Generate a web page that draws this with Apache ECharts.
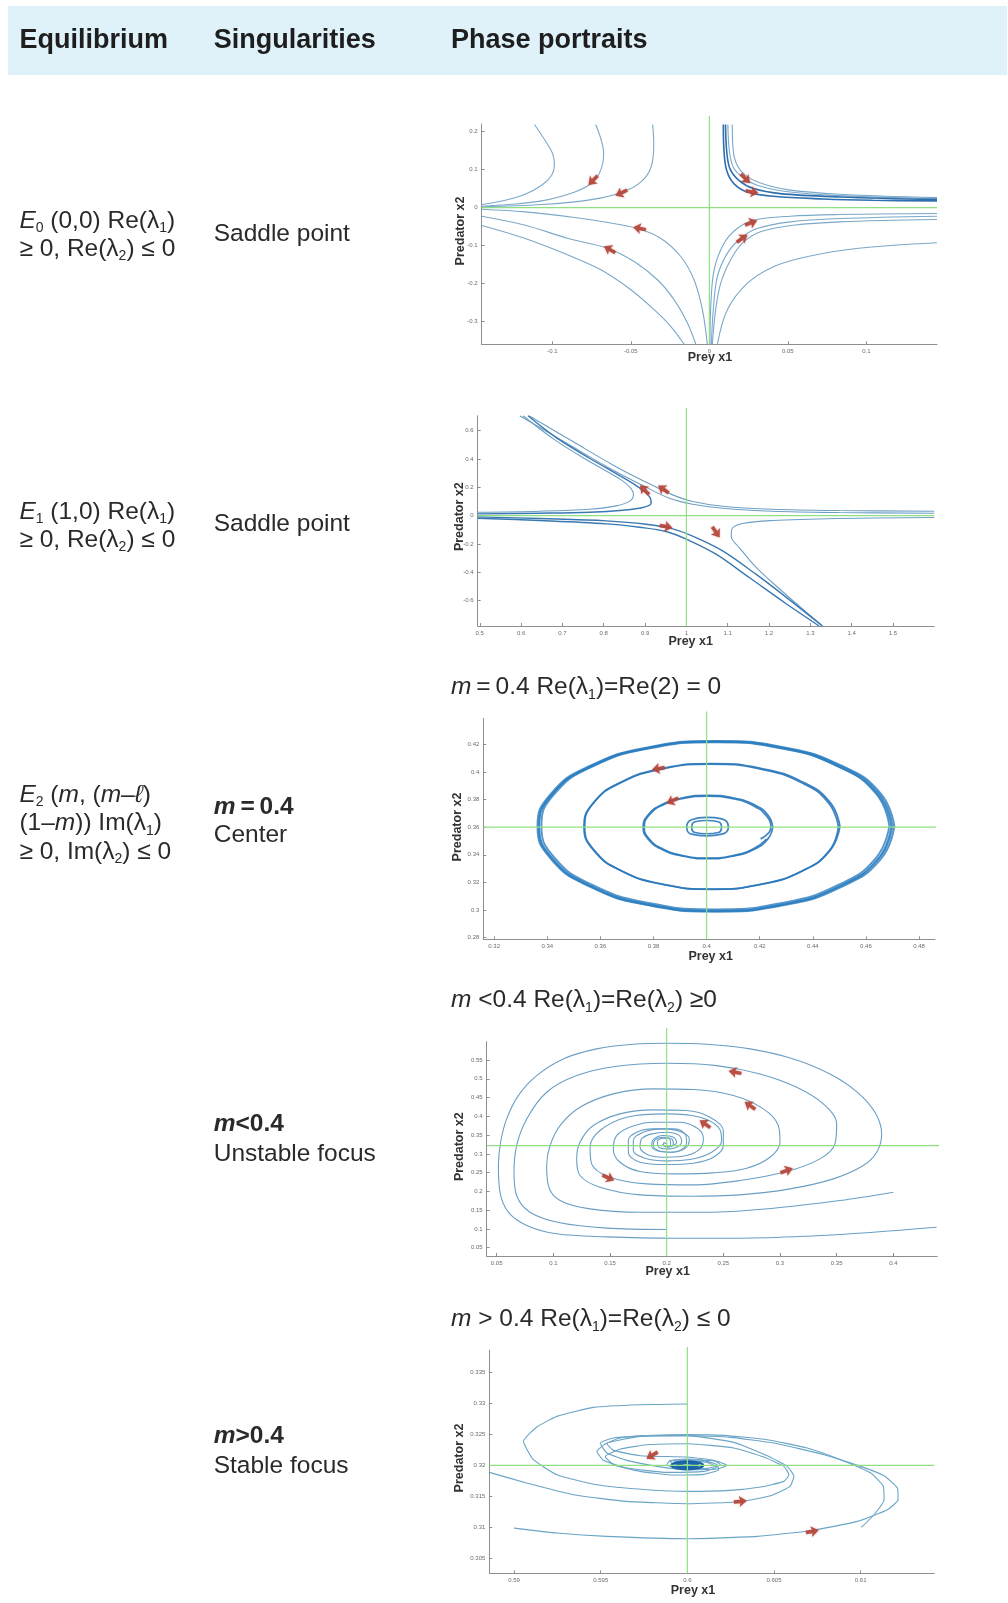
<!DOCTYPE html>
<html>
<head>
<meta charset="utf-8">
<script src="https://cdn.jsdelivr.net/npm/echarts@6/dist/echarts.min.js"></script>
<style>
html,body{margin:0;padding:0;background:#fff;}
#main{width:1008px;height:1603px;}
</style>
</head>
<body>
<div id="main"></div>
<script>
// ---------- Panel 1: E0 saddle ----------
const p1XRange = [-0.145, 0.145];
const p1YRange = [-0.36, 0.22];
const p1XTicks = [-0.1, -0.05, 0, 0.05, 0.1];
const p1YTicks = [-0.3, -0.2, -0.1, 0, 0.1, 0.2];
const p1Cross = [[[0, -0.36], [0, 0.242]], [[-0.145, 0], [0.145, 0]]];
const p1Thin = [
  [[-0.1114,0.2187],[-0.1046,0.1767],[-0.0998,0.1417],[-0.0987,0.1111],[-0.1004,0.0849],[-0.1068,0.0586],[-0.1173,0.035],[-0.13,0.0192],[-0.145,0.0079]],
  [[-0.0724,0.2187],[-0.0688,0.1767],[-0.0673,0.1417],[-0.0688,0.1024],[-0.0741,0.0674],[-0.0857,0.0411],[-0.1068,0.0175],[-0.1278,0.0079],[-0.145,0.0035]],
  [[-0.0361,0.2187],[-0.0354,0.168],[-0.0371,0.1067],[-0.0435,0.0674],[-0.0551,0.0411],[-0.0751,0.021],[-0.1068,0.0079],[-0.145,0.0017]],
  [[-0.145,-0.0044],[-0.1173,-0.0114],[-0.0857,-0.0262],[-0.0646,-0.0394],[-0.0456,-0.0551],[-0.0308,-0.0814],[-0.0181,-0.1295],[-0.0097,-0.1907],[-0.0044,-0.2695],[-0.0013,-0.36]],
  [[-0.145,-0.0227],[-0.1173,-0.0464],[-0.0899,-0.0814],[-0.0646,-0.1076],[-0.0477,-0.1426],[-0.0329,-0.1907],[-0.0224,-0.2432],[-0.0139,-0.3045],[-0.0086,-0.36]],
  [[-0.145,-0.0472],[-0.1173,-0.0814],[-0.0899,-0.1251],[-0.0688,-0.1645],[-0.0498,-0.217],[-0.035,-0.2695],[-0.0245,-0.3132],[-0.016,-0.36]],
  [[0.0118,0.2187],[0.0127,0.1505],[0.0152,0.1067],[0.0209,0.0805],[0.0304,0.0586],[0.0473,0.0429],[0.0831,0.0315],[0.145,0.0236]],
  [[0.0146,0.2187],[0.0152,0.1505],[0.0177,0.1111],[0.023,0.0849],[0.0325,0.0647],[0.0494,0.0472],[0.0831,0.035],[0.145,0.0262]],
  [[0.0004,-0.36],[0.0008,-0.2695],[0.003,-0.1645],[0.0093,-0.0945],[0.0177,-0.0551],[0.0283,-0.0332],[0.0515,-0.0227],[0.0831,-0.0184],[0.145,-0.0157]],
  [[0.0013,-0.36],[0.0025,-0.2695],[0.0051,-0.182],[0.0114,-0.1207],[0.0198,-0.0814],[0.0304,-0.0551],[0.0515,-0.0376],[0.0831,-0.0289],[0.145,-0.0227]],
  [[0.0019,-0.36],[0.004,-0.2695],[0.0072,-0.1995],[0.0135,-0.1382],[0.0209,-0.0945],[0.0325,-0.0639],[0.0536,-0.0464],[0.0831,-0.0376],[0.145,-0.0315]],
  [[0.0051,-0.36],[0.0114,-0.2695],[0.0241,-0.1995],[0.0409,-0.1557],[0.062,-0.1295],[0.0937,-0.1076],[0.145,-0.0927]]
];
const p1Bold = [
  [[0.0089,0.2187],[0.0093,0.1505],[0.011,0.098],[0.0156,0.063],[0.0241,0.0411],[0.0409,0.0297],[0.0726,0.0227],[0.1042,0.0192],[0.145,0.0175]],
  [[0.0103,0.2187],[0.011,0.1505],[0.0131,0.1024],[0.0188,0.0717],[0.0283,0.0499],[0.0451,0.0367],[0.0831,0.028],[0.145,0.021]]
];
const p1Arrows = [[-0.0741,0.0717,135],[-0.0561,0.0385,115],[-0.0445,-0.0551,80],[-0.0635,-0.1102,60],
                  [0.023,0.0761,-135],[0.0272,0.0411,-100],[0.0266,-0.0402,-70],[0.0209,-0.0814,-55]];

// ---------- Panel 2: E1 saddle ----------
const p2XRange = [0.495, 1.6];
const p2YRange = [-0.78, 0.705];
const p2XTicks = [0.5, 0.6, 0.7, 0.8, 0.9, 1, 1.1, 1.2, 1.3, 1.4, 1.5];
const p2YTicks = [-0.6, -0.4, -0.2, 0, 0.2, 0.4, 0.6];
const p2Cross = [[[1, -0.78], [1, 0.762]], [[0.495, 0], [1.6, 0]]];
const p2Thin = [
  [[0.495,0.0235],[0.6449,0.0306],[0.7657,0.0447],[0.8301,0.0682],[0.8639,0.1035],[0.872,0.1506],[0.8639,0.1976],[0.8422,0.2518],[0.7657,0.3812],[0.6852,0.5271],[0.6047,0.705]],
  [[0.6192,0.705],[0.7254,0.5224],[0.8221,0.3576],[0.9026,0.2353],[0.967,0.1459],[1.0153,0.0988],[1.0878,0.0659],[1.2085,0.0447],[1.3696,0.0353],[1.6,0.0306]],
  [[0.5966,0.705],[0.7174,0.4988],[0.814,0.3341],[0.8945,0.2118],[0.9589,0.1224],[1.0153,0.08],[1.0878,0.0518],[1.2085,0.0306],[1.3696,0.0212],[1.6,0.0165]],
  [[1.6,-0.0141],[1.3696,-0.0212],[1.2085,-0.0353],[1.1361,-0.0565],[1.1103,-0.0941],[1.1087,-0.1482],[1.128,-0.2259],[1.17,-0.37],[1.236,-0.545],[1.3293,-0.78]]
];
const p2Bold = [
  [[0.495,0.0118],[0.6449,0.0165],[0.7657,0.0235],[0.8462,0.0376],[0.8945,0.0565],[0.9147,0.0871],[0.9122,0.1271],[0.8986,0.1694],[0.8784,0.2118],[0.8382,0.2824],[0.7657,0.4047],[0.6852,0.5506],[0.6167,0.705]],
  [[0.495,-0.0094],[0.6449,-0.0212],[0.806,-0.0376],[0.9026,-0.0612],[0.967,-0.0941],[1.0233,-0.1553],[1.0878,-0.2494],[1.1683,-0.4141],[1.245,-0.585],[1.3293,-0.78]],
  [[0.495,-0.0188],[0.6449,-0.0353],[0.806,-0.0588],[0.8865,-0.0824],[0.9509,-0.1129],[1.0072,-0.1765],[1.0717,-0.2729],[1.1522,-0.4376],[1.2407,-0.6212],[1.3213,-0.78]]
];
const p2Arrows = [[0.8986,0.1812,45],[0.9444,0.1859,55],[0.9509,-0.0776,-100],[1.0717,-0.1176,-145]];

// ---------- Panel 3: center (m = 0.4) ----------
const p3XRange = [0.3159, 0.486];
const p3YRange = [0.2788, 0.4388];
const p3XTicks = [0.32, 0.34, 0.36, 0.38, 0.4, 0.42, 0.44, 0.46, 0.48];
const p3YTicks = [0.28, 0.3, 0.32, 0.34, 0.36, 0.38, 0.4, 0.42];
const p3Cross = [[[0.4, 0.2788], [0.4, 0.4438]], [[0.3159, 0.36], [0.4875, 0.36]]];
const p3Outer = [
  [[0.47,0.3608],[0.4649,0.3843],[0.4505,0.4041],[0.429,0.4174],[0.4035,0.4221],[0.378,0.4174],[0.3565,0.4041],[0.3421,0.3843],[0.337,0.3608],[0.3421,0.3373],[0.3565,0.3175],[0.378,0.3042],[0.4035,0.2995],[0.429,0.3042],[0.4505,0.3175],[0.4649,0.3373],[0.47,0.3608]],
  [[0.4707,0.3606],[0.4656,0.3843],[0.451,0.4043],[0.4292,0.4177],[0.4035,0.4224],[0.3778,0.4177],[0.356,0.4043],[0.3414,0.3843],[0.3363,0.3606],[0.3414,0.3369],[0.356,0.3169],[0.3778,0.3035],[0.4035,0.2988],[0.4292,0.3035],[0.451,0.3169],[0.4656,0.3369],[0.4707,0.3606]],
  [[0.4688,0.361],[0.4638,0.3842],[0.4496,0.4038],[0.4284,0.4169],[0.4033,0.4215],[0.3782,0.4169],[0.357,0.4038],[0.3428,0.3842],[0.3378,0.361],[0.3428,0.3378],[0.357,0.3182],[0.3782,0.3051],[0.4033,0.3005],[0.4284,0.3051],[0.4496,0.3182],[0.4638,0.3378],[0.4688,0.361]],
  [[0.4695,0.3604],[0.4645,0.3838],[0.45,0.4036],[0.4287,0.4171],[0.4032,0.4218],[0.3776,0.4171],[0.3562,0.4036],[0.3418,0.3838],[0.3368,0.3604],[0.3418,0.337],[0.3562,0.3172],[0.3776,0.3039],[0.4032,0.2992],[0.4287,0.3039],[0.45,0.3172],[0.4645,0.337],[0.4695,0.3604]]
];
const p3Inner = [
  [[0.4502,0.3605],[0.4465,0.3779],[0.4361,0.3927],[0.4204,0.4025],[0.402,0.406],[0.3836,0.4025],[0.3679,0.3927],[0.3575,0.3779],[0.3538,0.3605],[0.3575,0.3431],[0.3679,0.3283],[0.3836,0.3185],[0.402,0.315],[0.4204,0.3185],[0.4361,0.3283],[0.4465,0.3431],[0.4502,0.3605]],
  [[0.4496,0.3603],[0.4459,0.3776],[0.4356,0.3923],[0.42,0.4021],[0.4017,0.4056],[0.3834,0.4021],[0.3678,0.3923],[0.3575,0.3776],[0.3541,0.3603],[0.3578,0.343],[0.3681,0.3283],[0.3837,0.3186],[0.402,0.3151],[0.4203,0.3186],[0.4359,0.3283],[0.4462,0.343],[0.4496,0.3603]],
  [[0.4249,0.3601],[0.423,0.3689],[0.4178,0.3763],[0.4098,0.3813],[0.4005,0.383],[0.3912,0.3813],[0.3832,0.3763],[0.378,0.3689],[0.3761,0.3601],[0.378,0.3513],[0.3832,0.3439],[0.3912,0.3389],[0.4005,0.3372],[0.4098,0.3389],[0.4178,0.3439],[0.423,0.3513],[0.4249,0.3601]],
  [[0.4203,0.3515],[0.4242,0.3598],[0.4224,0.3684],[0.4173,0.3758],[0.4094,0.3808],[0.4003,0.3825],[0.3912,0.3808],[0.3834,0.3759],[0.3783,0.3686],[0.3765,0.36],[0.3784,0.3514],[0.3835,0.3442],[0.3914,0.3393],[0.4005,0.3376],[0.4096,0.3393],[0.4175,0.3442],[0.4226,0.3514]],
  [[0.4,0.367],[0.4057,0.366],[0.4082,0.36],[0.4057,0.3549],[0.4,0.3537],[0.3943,0.3549],[0.3925,0.36],[0.3943,0.3653],[0.4,0.367]],
  [[0.4,0.3648],[0.4044,0.3639],[0.4056,0.36],[0.4044,0.3561],[0.4,0.3552],[0.3956,0.3561],[0.3944,0.36],[0.3956,0.3639],[0.4,0.3648]]
];
const p3Arrows = [[0.3818,0.4023,100],[0.3871,0.3791,115]];

// ---------- Panel 4: unstable focus (m < 0.4) ----------
const p4XRange = [0.0412, 0.4388];
const p4YRange = [0.0278, 0.599];
const p4XTicks = [0.05, 0.1, 0.15, 0.2, 0.25, 0.3, 0.35, 0.4];
const p4YTicks = [0.05, 0.1, 0.15, 0.2, 0.25, 0.3, 0.35, 0.4, 0.45, 0.5, 0.55];
const p4Cross = [[[0.2, 0.0278], [0.2, 0.6365]], [[0.0412, 0.322], [0.4403, 0.322]]];
const p4Spirals = [
  [[0.4382,0.1046],[0.3824,0.0913],[0.3235,0.0806],[0.2647,0.0753],[0.2059,0.0753],[0.1471,0.0789],[0.1029,0.0869],[0.0765,0.1091],[0.0603,0.1446],[0.0529,0.1979],[0.0515,0.2689],[0.0535,0.3311],[0.0588,0.3932],[0.0691,0.4554],[0.0853,0.5087],[0.1088,0.5531],[0.1382,0.5798],[0.1706,0.5922],[0.2,0.5948],[0.2353,0.5922],[0.2735,0.5798],[0.3118,0.5531],[0.3441,0.5131],[0.3676,0.4661],[0.3838,0.411],[0.3897,0.3533],[0.3853,0.3044],[0.3735,0.2689],[0.3471,0.2334],[0.3088,0.2067],[0.2647,0.1908],[0.2206,0.1872],[0.1765,0.1908],[0.1412,0.2112],[0.1235,0.2423],[0.1206,0.2867],[0.1235,0.3311],[0.1353,0.3755],[0.1588,0.4066],[0.1882,0.4172],[0.2176,0.4155],[0.2382,0.3977],[0.25,0.3622],[0.25,0.3222],[0.2412,0.2911],[0.2235,0.2751],[0.2,0.2716],[0.1765,0.2778],[0.1662,0.3044],[0.1662,0.3355],[0.1735,0.3577],[0.1882,0.3666],[0.2059,0.3666],[0.2162,0.3533],[0.2176,0.3311],[0.2132,0.3115],[0.2029,0.3044],[0.1926,0.3089],[0.1882,0.3222],[0.1897,0.3373],[0.1971,0.3444],[0.2044,0.34],[0.2059,0.3266],[0.2015,0.3178],[0.1971,0.3222],[0.1976,0.3293],[0.2,0.3266]],
  [[0.4,0.1979],[0.3529,0.1757],[0.2941,0.1552],[0.2353,0.1446],[0.1765,0.1446],[0.1324,0.1535],[0.1059,0.1757],[0.0956,0.2156],[0.0941,0.2689],[0.0971,0.3222],[0.1059,0.3755],[0.1235,0.4243],[0.1529,0.4599],[0.1882,0.4732],[0.2235,0.4714],[0.2588,0.4554],[0.2853,0.4199],[0.2985,0.3755],[0.3,0.3311],[0.2912,0.2911],[0.2706,0.2618],[0.2412,0.2494],[0.2059,0.2467],[0.1765,0.2529],[0.1588,0.2778],[0.1529,0.3133],[0.1559,0.3488],[0.1691,0.3728],[0.1882,0.3844],[0.2118,0.3844],[0.2279,0.3666],[0.2324,0.34],[0.2294,0.3133],[0.2176,0.2956],[0.2,0.2911],[0.1838,0.2973],[0.1765,0.3178],[0.1779,0.34],[0.1868,0.3533],[0.2,0.3577],[0.2103,0.3506],[0.2132,0.3329],[0.2088,0.3178],[0.2,0.3133],[0.1926,0.3195],[0.1918,0.3329],[0.1965,0.3417],[0.2029,0.3382],[0.2035,0.324],[0.1994,0.3204]],
  [[0.2,0.0984],[0.1471,0.102],[0.1059,0.1162],[0.0794,0.1446],[0.0676,0.189],[0.0653,0.2512],[0.0676,0.3222],[0.0765,0.3932],[0.0941,0.4643],[0.1206,0.5087],[0.1559,0.5336],[0.2,0.5416],[0.2441,0.5353],[0.2824,0.5131],[0.3147,0.4776],[0.3382,0.4332],[0.35,0.3799],[0.3485,0.3266],[0.3353,0.2867],[0.3059,0.2529],[0.2647,0.229],[0.2235,0.2174],[0.1824,0.2201],[0.15,0.2378],[0.1338,0.2734],[0.1324,0.3178],[0.1412,0.3622],[0.1647,0.3977],[0.2,0.4066],[0.2294,0.3977],[0.2456,0.371],[0.2485,0.3355],[0.2397,0.3044],[0.2206,0.2849],[0.2,0.2813],[0.1809,0.2885],[0.1706,0.3089],[0.1706,0.3355],[0.1794,0.3577],[0.1971,0.3666],[0.2118,0.3595],[0.22,0.34],[0.2176,0.3178],[0.2059,0.3044],[0.1941,0.3062],[0.1868,0.3204],[0.1882,0.3382],[0.1971,0.3488],[0.2059,0.3444],[0.2088,0.3311],[0.2029,0.3195],[0.1956,0.324]]
];
const p4Arrows = [[0.2603,0.5176,80],[0.2735,0.4288,55],[0.2338,0.3799,55],[0.1485,0.2361,-115],[0.3059,0.2556,-70]];

// ---------- Panel 5: stable focus (m > 0.4) ----------
const p5XRange = [0.58857, 0.61425];
const p5YRange = [0.3026, 0.3386];
const p5XTicks = [0.59, 0.595, 0.6, 0.605, 0.61];
const p5YTicks = [0.305, 0.31, 0.315, 0.32, 0.325, 0.33, 0.335];
const p5Cross = [[[0.6, 0.3026], [0.6, 0.3391]], [[0.58857, 0.32], [0.61425, 0.32]]];
const p5Paths = [
  [[0.6,0.32989],[0.59728,0.32978],[0.59459,0.32935],[0.59247,0.3279],[0.59131,0.32618],[0.59054,0.32387],[0.59112,0.32091],[0.59247,0.31849],[0.59478,0.31688],[0.59767,0.31608],[0.6,0.31581],[0.60249,0.31597],[0.60422,0.3165],[0.60557,0.31742],[0.60586,0.31849],[0.60557,0.31984],[0.60441,0.32134],[0.60268,0.3228],[0.6,0.32349],[0.59767,0.32333],[0.59613,0.32263],[0.59526,0.32145],[0.59574,0.32011],[0.59728,0.31903],[0.59921,0.31844],[0.60094,0.31855],[0.60181,0.3193],[0.60171,0.32011],[0.60094,0.32081],[0.6,0.32102],[0.59902,0.32081],[0.59882,0.32011],[0.5994,0.31957],[0.60037,0.31957],[0.60066,0.32],[0.6,0.32038],[0.5996,0.32011],[0.6,0.31984]],
  [[0.58857,0.31887],[0.59073,0.31715],[0.59343,0.31527],[0.59651,0.31419],[0.6,0.31382],[0.60306,0.31414],[0.6048,0.31511],[0.60592,0.31661],[0.60615,0.31823],[0.60576,0.31984],[0.60461,0.32156],[0.60268,0.32371],[0.6,0.3248],[0.59728,0.32468],[0.59536,0.3236],[0.59478,0.32226],[0.59516,0.32081],[0.59651,0.31957],[0.59882,0.31887],[0.60094,0.31903],[0.60171,0.31973],[0.60114,0.32048],[0.6,0.32081],[0.59921,0.32048],[0.59931,0.31984],[0.6,0.31968],[0.60056,0.31995],[0.6,0.32027]],
  [[0.61004,0.31],[0.61077,0.31204],[0.61135,0.31446],[0.61131,0.31661],[0.61058,0.31876],[0.60884,0.32091],[0.60692,0.3228],[0.60461,0.32414],[0.6021,0.32484],[0.6,0.32495],[0.59767,0.3248],[0.59574,0.32441],[0.59497,0.3236],[0.59536,0.32199],[0.59651,0.32081],[0.59825,0.31984],[0.6,0.3193],[0.60171,0.31941],[0.60229,0.32],[0.60171,0.32065],[0.6,0.32091],[0.59902,0.32065],[0.59921,0.31995],[0.6,0.31973]],
  [[0.59,0.30989],[0.59247,0.30909],[0.59536,0.30855],[0.6,0.30817],[0.60403,0.30855],[0.60711,0.30946],[0.60981,0.31097],[0.61154,0.31285],[0.61216,0.31446],[0.61212,0.31634],[0.61135,0.31833],[0.61,0.31984],[0.60788,0.32172],[0.60499,0.3236],[0.60249,0.32452],[0.6,0.3248],[0.59767,0.3248],[0.59613,0.32441],[0.59536,0.32349],[0.59574,0.32242],[0.59728,0.32156],[0.6,0.32134],[0.60152,0.32081],[0.60191,0.32011],[0.60114,0.31952],[0.6,0.31941],[0.59921,0.31968],[0.59931,0.32022],[0.6,0.32038]]
];
const p5Core = [
  [[0.6,0.3206],[0.6007,0.3204],[0.6009,0.32],[0.6007,0.3196],[0.6,0.3194],[0.5993,0.3196],[0.5991,0.32],[0.5993,0.3204],[0.6,0.3206]],
  [[0.6,0.3204],[0.6005,0.3202],[0.6006,0.32],[0.6005,0.3198],[0.6,0.3197],[0.5995,0.3198],[0.5994,0.32],[0.5995,0.3202],[0.6,0.3204]]
];
const p5Arrows = [[0.59796,0.32161,120],[0.60306,0.31419,-85],[0.60721,0.30935,-80]];

// ---------- Table text ----------
const headers = ['Equilibrium', 'Singularities', 'Phase portraits'];
const equilibria = [
  '{i|E}{s|0} (0,0) Re(λ{s|1})\n≥ 0, Re(λ{s|2}) ≤ 0',
  '{i|E}{s|1} (1,0) Re(λ{s|1})\n≥ 0, Re(λ{s|2}) ≤ 0',
  '{i|E}{s|2} ({i|m}, ({i|m}–{i|ℓ})\n(1–{i|m})) Im(λ{s|1})\n≥ 0, Im(λ{s|2}) ≤ 0'
];
const singularities = [
  'Saddle point',
  'Saddle point',
  '{bi|m}{b|\u2009=\u20090.4}\nCenter',
  '{bi|m}{b|<0.4}\nUnstable focus',
  '{bi|m}{b|>0.4}\nStable focus'
];
const conditions = [
  '{i|m}\u2009=\u20090.4 Re(λ{s|1})=Re(2) = 0',
  '{i|m} <0.4 Re(λ{s|1})=Re(λ{s|2}) ≥0',
  '{i|m} > 0.4 Re(λ{s|1})=Re(λ{s|2}) ≤ 0'
];
const xName = 'Prey x1';
const yName = 'Predator x2';

// ---------- Styles ----------
const FONT = '"Liberation Sans", Arial, Helvetica, sans-serif';
const INK = '#2a2a2a';
const GREEN = '#90e083';
const ARROW = '#b5463c';
const AXIS = '#8f8f8f';
const BODY = 24.5;
// arrowhead with a short shaft, pointing up before rotation
const ARROW_PATH = 'path://M5,0 L10,6.5 L6.6,5.6 L6.6,11 L3.4,11 L3.4,5.6 L0,6.5 Z';

function richStyles(lh) {
  const base = {fontFamily: FONT, fontSize: BODY, fill: INK, lineHeight: lh};
  return {
    s: {fontFamily: FONT, fontSize: 14, fill: INK, lineHeight: lh, verticalAlign: 'bottom'},
    i: Object.assign({}, base, {fontStyle: 'italic'}),
    b: Object.assign({}, base, {fontWeight: 'bold'}),
    bi: Object.assign({}, base, {fontWeight: 'bold', fontStyle: 'italic'})
  };
}

const fmt = v => String(parseFloat(Number(v).toFixed(6)));

function makeAxis(i, range, ticks, isX) {
  return {
    type: 'value', gridIndex: i, min: range[0], max: range[1],
    position: isX ? 'bottom' : 'left',
    axisLine: {show: true, onZero: false, lineStyle: {color: AXIS, width: 1}},
    axisTick: {show: true, inside: true, length: 3, customValues: ticks, lineStyle: {color: AXIS, width: 1}},
    axisLabel: {show: true, customValues: ticks, fontSize: 6, color: '#6b6b6b', margin: 4,
                fontFamily: FONT, formatter: fmt},
    splitLine: {show: false}
  };
}

function lineSeries(i, data, color, width, clip, smooth, opacity) {
  return {
    type: 'line', xAxisIndex: i, yAxisIndex: i, data: data,
    showSymbol: false, symbol: 'none', smooth: smooth, clip: clip,
    lineStyle: {color: color, width: width, opacity: opacity == null ? 1 : opacity},
    silent: true, animation: false
  };
}

function arrowSeries(i, arrows) {
  return {
    type: 'scatter', xAxisIndex: i, yAxisIndex: i, symbol: ARROW_PATH, symbolSize: [11, 13],
    data: arrows.map(a => ({value: [a[0], a[1]], symbolRotate: a[2]})),
    itemStyle: {color: ARROW, opacity: 0.92, shadowColor: 'rgba(181,70,60,0.5)', shadowBlur: 2},
    silent: true, animation: false, z: 5
  };
}

const panels = [
  {grid: {left: 481.7, top: 124, width: 455.3, height: 220.3}, xr: p1XRange, yr: p1YRange, xt: p1XTicks, yt: p1YTicks,
   cross: p1Cross, arrows: p1Arrows,
   layers: [{paths: p1Thin, color: '#7aa8c9', width: 1.1, smooth: 0.35}, {paths: p1Bold, color: '#2f6fae', width: 1.6, smooth: 0.35}],
   xName: [710, 358], yName: [460.7, 231]},
  {grid: {left: 477.7, top: 415.7, width: 456.6, height: 210.3}, xr: p2XRange, yr: p2YRange, xt: p2XTicks, yt: p2YTicks,
   cross: p2Cross, arrows: p2Arrows,
   layers: [{paths: p2Thin, color: '#6e9fc4', width: 1.1, smooth: 0.35}, {paths: p2Bold, color: '#3a78b2', width: 1.4, smooth: 0.35}],
   xName: [690.7, 642], yName: [460, 516.7]},
  {grid: {left: 483.3, top: 718.3, width: 451.7, height: 221}, xr: p3XRange, yr: p3YRange, xt: p3XTicks, yt: p3YTicks,
   cross: p3Cross, arrows: p3Arrows,
   layers: [{paths: p3Outer, color: '#2b7dbf', width: 1.9, smooth: 0.5, opacity: 0.8}, {paths: p3Inner, color: '#2a78ba', width: 1.7, smooth: 0.5, opacity: 0.9}],
   xName: [710.7, 956.7], yName: [458, 827]},
  {grid: {left: 486.7, top: 1041.7, width: 450.6, height: 214.3}, xr: p4XRange, yr: p4YRange, xt: p4XTicks, yt: p4YTicks,
   cross: p4Cross, arrows: p4Arrows,
   layers: [{paths: p4Spirals, color: '#6a9fc5', width: 1.1, smooth: 0.35}],
   xName: [667.7, 1271.7], yName: [460, 1146.7]},
  {grid: {left: 489.3, top: 1350, width: 445, height: 223.3}, xr: p5XRange, yr: p5YRange, xt: p5XTicks, yt: p5YTicks,
   cross: p5Cross, arrows: p5Arrows,
   layers: [{paths: p5Paths, color: '#6aa4c6', width: 1.1, smooth: 0.15}, {paths: p5Core, color: '#1c63a8', width: 2.6, smooth: 0.4}],
   xName: [693, 1591], yName: [460, 1458]}
];

const grid = [], xAxis = [], yAxis = [], series = [], graphic = [];

panels.forEach((p, i) => {
  grid.push(p.grid);
  xAxis.push(makeAxis(i, p.xr, p.xt, true));
  yAxis.push(makeAxis(i, p.yr, p.yt, false));
  p.layers.forEach(layer => layer.paths.forEach(path =>
    series.push(lineSeries(i, path, layer.color, layer.width, true, layer.smooth, layer.opacity))));
  p.cross.forEach(seg => series.push(lineSeries(i, seg, GREEN, 1.2, false, false)));
  series.push(arrowSeries(i, p.arrows));
  graphic.push({type: 'text', x: p.xName[0], y: p.xName[1],
    style: {text: xName, fontFamily: FONT, fontSize: 12.5, fontWeight: 'bold', fill: '#333', align: 'center', verticalAlign: 'middle'}});
  graphic.push({type: 'text', x: p.yName[0], y: p.yName[1], rotation: Math.PI / 2,
    style: {text: yName, fontFamily: FONT, fontSize: 12.5, fontWeight: 'bold', fill: '#333', align: 'center', verticalAlign: 'middle'}});
});

// header band
graphic.push({type: 'rect', shape: {x: 8, y: 6, width: 999, height: 69}, style: {fill: '#dff1f9'}, z: -1});
[19.4, 213.7, 451].forEach((x, k) => graphic.push({type: 'text', x: x, y: 41,
  style: {text: headers[k], fontFamily: FONT, fontSize: 27, fontWeight: 'bold', fill: '#1e1e1e', verticalAlign: 'middle'}}));

function bodyText(x, y, text, lh) {
  return {type: 'text', x: x, y: y,
    style: {text: text, fontFamily: FONT, fontSize: BODY, fill: INK, lineHeight: lh,
            verticalAlign: 'middle', align: 'left', rich: richStyles(lh)}};
}

graphic.push(bodyText(19.4, 235, equilibria[0], 28));
graphic.push(bodyText(19.4, 526, equilibria[1], 28));
graphic.push(bodyText(19.4, 823.5, equilibria[2], 28.5));
graphic.push(bodyText(213.7, 234, singularities[0], 28));
graphic.push(bodyText(213.7, 524, singularities[1], 28));
graphic.push(bodyText(213.7, 821, singularities[2], 28));
graphic.push(bodyText(213.7, 1139, singularities[3], 30));
graphic.push(bodyText(213.7, 1451, singularities[4], 30));
graphic.push(bodyText(451, 687, conditions[0], 30));
graphic.push(bodyText(451, 1000, conditions[1], 30));
graphic.push(bodyText(451, 1319, conditions[2], 30));

const chart = echarts.init(document.getElementById('main'), null, {renderer: 'canvas', width: 1008, height: 1603});
chart.setOption({
  backgroundColor: '#ffffff',
  animation: false,
  grid: grid, xAxis: xAxis, yAxis: yAxis, series: series, graphic: graphic
});
</script>
</body>
</html>
